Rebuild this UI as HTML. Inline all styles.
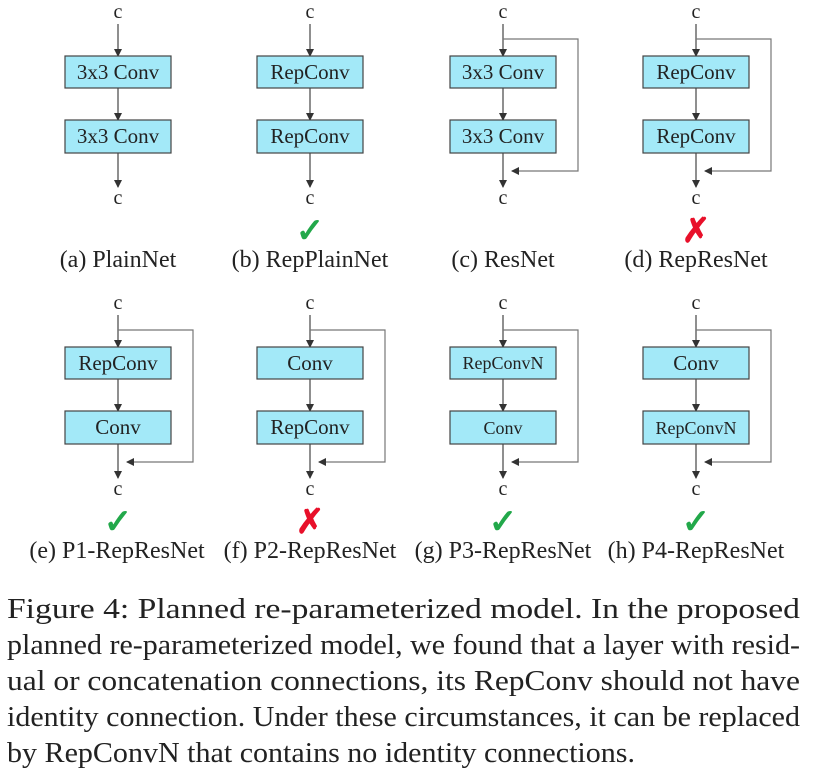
<!DOCTYPE html>
<html><head><meta charset="utf-8"><style>
html,body{margin:0;padding:0;background:#fff;}
svg{display:block;}
text{font-family:"Liberation Serif",serif;fill:#222;}
</style></head><body>
<svg width="819" height="772" viewBox="0 0 819 772" xmlns="http://www.w3.org/2000/svg">
<defs>
<marker id="ah" markerWidth="8" markerHeight="8" refX="7" refY="4" orient="auto" markerUnits="userSpaceOnUse">
<path d="M0,0 L8,4 L0,8 z" fill="#333"/></marker>
<g id="plain">
<line x1="0" y1="24" x2="0" y2="56" stroke="#444" stroke-width="1.2" marker-end="url(#ah)"/>
<rect x="-53" y="56" width="106" height="32" fill="#a3e9f8" stroke="#444" stroke-width="1.2"/>
<line x1="0" y1="88" x2="0" y2="120" stroke="#444" stroke-width="1.2" marker-end="url(#ah)"/>
<rect x="-53" y="120" width="106" height="33" fill="#a3e9f8" stroke="#444" stroke-width="1.2"/>
<line x1="0" y1="153" x2="0" y2="187" stroke="#444" stroke-width="1.2" marker-end="url(#ah)"/>
</g>
<g id="res">
<polyline points="0,39 75,39 75,171 9,171" fill="none" stroke="#777" stroke-width="1.2" marker-end="url(#ah)"/>
</g>
</defs>

<use href="#plain" x="118"/>
<use href="#plain" x="310"/>
<use href="#plain" x="503"/><use href="#res" x="503"/>
<use href="#plain" x="696"/><use href="#res" x="696"/>
<use href="#plain" x="118" y="291"/><use href="#res" x="118" y="291"/>
<use href="#plain" x="310" y="291"/><use href="#res" x="310" y="291"/>
<use href="#plain" x="503" y="291"/><use href="#res" x="503" y="291"/>
<use href="#plain" x="696" y="291"/><use href="#res" x="696" y="291"/>

<g font-size="20" text-anchor="middle">
<text x="118" y="18">c</text><text x="310" y="18">c</text><text x="503" y="18">c</text><text x="696" y="18">c</text>
<text x="118" y="204">c</text><text x="310" y="204">c</text><text x="503" y="204">c</text><text x="696" y="204">c</text>
<text x="118" y="309">c</text><text x="310" y="309">c</text><text x="503" y="309">c</text><text x="696" y="309">c</text>
<text x="118" y="495">c</text><text x="310" y="495">c</text><text x="503" y="495">c</text><text x="696" y="495">c</text>
</g>

<g font-size="21" text-anchor="middle">
<text x="118" y="79">3x3 Conv</text><text x="118" y="143">3x3 Conv</text>
<text x="310" y="79">RepConv</text><text x="310" y="143">RepConv</text>
<text x="503" y="79">3x3 Conv</text><text x="503" y="143">3x3 Conv</text>
<text x="696" y="79">RepConv</text><text x="696" y="143">RepConv</text>
<text x="118" y="370">RepConv</text><text x="118" y="434">Conv</text>
<text x="310" y="370">Conv</text><text x="310" y="434">RepConv</text>
<text x="503" y="369" font-size="18">RepConvN</text><text x="503" y="434" font-size="18">Conv</text>
<text x="696" y="370">Conv</text><text x="696" y="434" font-size="18">RepConvN</text>
</g>

<g font-size="34" font-family="DejaVu Sans" text-anchor="middle" font-weight="bold">
<text x="310" y="242" style="fill:#22a84a">✓</text>
<text x="696" y="242" style="fill:#e8102a">✗</text>
<text x="118" y="533" style="fill:#22a84a">✓</text>
<text x="310" y="533" style="fill:#e8102a">✗</text>
<text x="503" y="533" style="fill:#22a84a">✓</text>
<text x="696" y="533" style="fill:#22a84a">✓</text>
</g>

<g font-size="24" text-anchor="middle">
<text x="118" y="267">(a) PlainNet</text>
<text x="310" y="267">(b) RepPlainNet</text>
<text x="503" y="267">(c) ResNet</text>
<text x="696" y="267">(d) RepResNet</text>
<text x="117" y="558">(e) P1-RepResNet</text>
<text x="310" y="558">(f) P2-RepResNet</text>
<text x="503" y="558">(g) P3-RepResNet</text>
<text x="696" y="558">(h) P4-RepResNet</text>
</g>

<g font-size="29" style="fill:#111">
<text x="7" y="618" textLength="793" lengthAdjust="spacingAndGlyphs">Figure 4:  Planned re-parameterized model.  In the proposed</text>
<text x="7" y="654" textLength="793" lengthAdjust="spacingAndGlyphs">planned re-parameterized model, we found that a layer with resid-</text>
<text x="7" y="690" textLength="793" lengthAdjust="spacingAndGlyphs">ual or concatenation connections, its RepConv should not have</text>
<text x="7" y="726" textLength="793" lengthAdjust="spacingAndGlyphs">identity connection. Under these circumstances, it can be replaced</text>
<text x="7" y="762" textLength="628" lengthAdjust="spacingAndGlyphs">by RepConvN that contains no identity connections.</text>
</g>
</svg>
</body></html>
